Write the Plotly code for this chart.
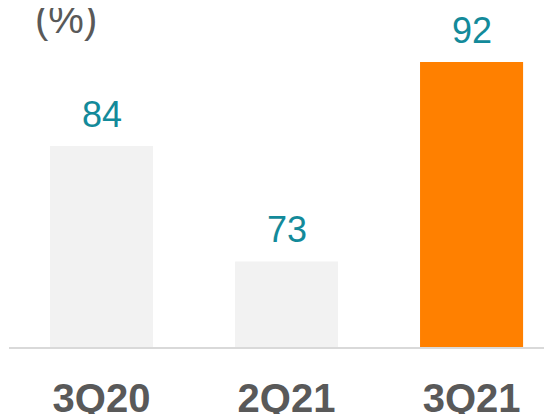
import plotly.graph_objects as go

categories = ["3Q20", "2Q21", "3Q21"]
values = [84, 73, 92]
bar_colors = ["#f2f2f2", "#f2f2f2", "#ff8000"]
unit_label = "(%)"

fig = go.Figure()
fig.add_trace(go.Bar(
    x=categories, y=values,
    marker=dict(color=bar_colors, line=dict(width=0)),
    width=0.557,
    hoverinfo="skip",
))

for c, v in zip(categories, values):
    fig.add_annotation(
        x=c, y=v, xref="x", yref="y",
        text=str(v), showarrow=False,
        xanchor="center", yanchor="middle", yshift=31.5,
        font=dict(family="Liberation Sans, Arial", size=36, color="#138a9a"),
    )

fig.add_annotation(
    x=0.1034, y=0.9676, xref="paper", yref="paper",
    text=unit_label, showarrow=False, xanchor="center", yanchor="middle",
    font=dict(family="Liberation Sans, Arial", size=40, color="#595959"),
)

fig.update_layout(
    width=552, height=414,
    margin=dict(l=1, r=0, t=0, b=75, autoexpand=False),
    paper_bgcolor="white", plot_bgcolor="white",
    showlegend=False,
    xaxis=dict(
        range=[-0.5, 2.478], showgrid=False, zeroline=False, automargin=False,
        showline=True, linecolor="#d9d9d9", linewidth=2,
        ticks="", ticklabelstandoff=15,
        tickfont=dict(family="Liberation Sans, Arial", size=40, color="#595959", weight="bold"),
    ),
    yaxis=dict(
        range=[64.85, 97.14], visible=False, showgrid=False, zeroline=False, automargin=False,
    ),
)

fig.write_html("out.html")
